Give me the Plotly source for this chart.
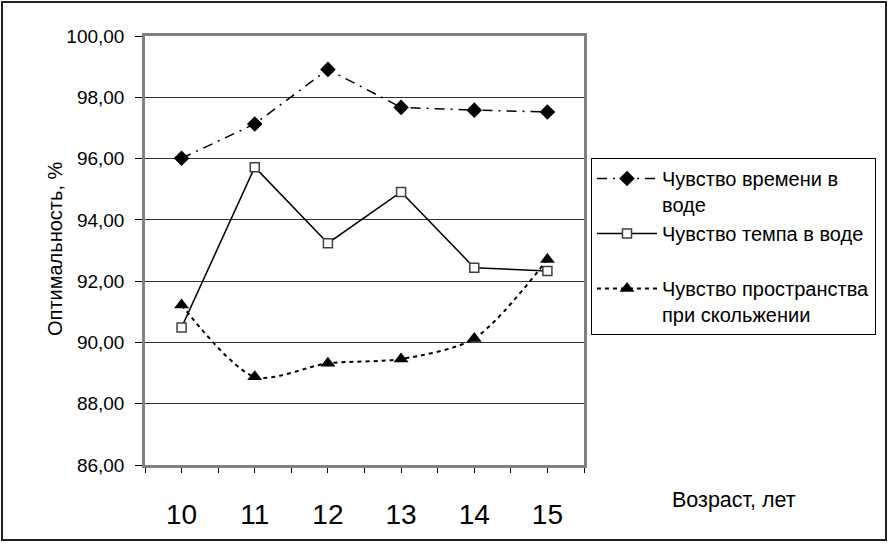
import plotly.graph_objects as go

ages = [10, 11, 12, 13, 14, 15]
age_labels = ["10", "11", "12", "13", "14", "15"]
time_sense = [96.01, 97.13, 98.91, 97.67, 97.58, 97.52]
tempo_sense = [90.49, 95.72, 93.24, 94.91, 92.44, 92.33]
space_sense = [91.22, 88.88, 89.32, 89.46, 90.13, 92.71]
names = ["Чувство времени в<br>воде",
         "Чувство темпа в воде<br><span style='font-size:11px'>\u00a0</span>",
         "Чувство пространства<br>при скольжении"]

W, H = 891, 546
L, R, T, B = 145, 584, 36, 465


def px(x):
    return (x - L) / (R - L)


def py(y):
    return (B - y) / (B - T)


FONT = "Liberation Sans, Arial, sans-serif"

fig = go.Figure()
fig.add_trace(go.Scatter(
    x=ages, y=time_sense, name=names[0], mode="lines+markers",
    line=dict(color="black", width=1.5, dash="10px,6px,2px,6px"),
    marker=dict(symbol="diamond", size=12, color="black"),
))
fig.add_trace(go.Scatter(
    x=ages, y=tempo_sense, name=names[1], mode="lines+markers",
    line=dict(color="black", width=1.5),
    marker=dict(symbol="square", size=9, color="white", line=dict(color="#404040", width=1.5)),
))
fig.add_trace(go.Scatter(
    x=ages, y=space_sense, name=names[2], mode="lines+markers",
    line=dict(color="black", width=2, dash="4px,4px", shape="spline", smoothing=0.8),
    marker=dict(symbol="triangle-up", size=13, color="black"),
))

fig.update_layout(
    width=W, height=H,
    margin=dict(l=L, r=W - R, t=T, b=H - B, autoexpand=False),
    paper_bgcolor="white", plot_bgcolor="white",
    separators=", ",
    font=dict(family=FONT, size=19, color="black"),
    showlegend=True,
    legend=dict(
        x=px(591), y=py(158), xanchor="left", yanchor="top",
        bordercolor="black", borderwidth=1, bgcolor="white",
        font=dict(size=20), valign="top", itemwidth=60,
        tracegroupgap=0,
    ),
    xaxis=dict(
        range=[9.5, 15.5], tickvals=ages, ticktext=age_labels,
        tickfont=dict(size=28), ticks="outside", ticklen=5, tickcolor="black",
        minor=dict(dtick=0.5, tick0=9.5, ticks="outside", ticklen=5, tickcolor="black", showgrid=False),
        showgrid=False, zeroline=False, automargin=False,
        showline=True, linecolor="#808080", linewidth=2.5, mirror=True,
        ticklabelstandoff=18,
    ),
    yaxis=dict(
        range=[86, 100], dtick=2, tick0=86, tickformat=".2f",
        ticks="outside", ticklen=7, tickcolor="black",
        showgrid=True, gridcolor="#303030", gridwidth=1,
        zeroline=False, automargin=False,
        showline=True, linecolor="#808080", linewidth=2.5, mirror=True,
        ticklabelstandoff=7,
    ),
    annotations=[
        dict(text="Оптимальность, %", textangle=-90, xref="paper", yref="paper",
             x=px(55), y=py(249), xanchor="center", yanchor="middle",
             showarrow=False, font=dict(size=20)),
        dict(text="Возраст, лет", xref="paper", yref="paper",
             x=px(734), y=py(500), xanchor="center", yanchor="middle",
             showarrow=False, font=dict(size=21.5)),
    ],
    shapes=[
        dict(type="rect", xref="paper", yref="paper",
             x0=px(2), x1=px(886), y0=py(540), y1=py(2),
             line=dict(color="#202020", width=2), fillcolor="rgba(0,0,0,0)", layer="below"),
    ],
)

fig.write_html("out.html")
